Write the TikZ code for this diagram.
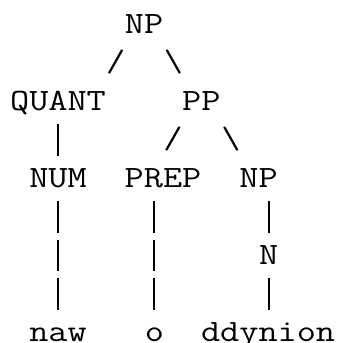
\documentclass[tikz,border=0pt]{standalone}
\tikzset{
  tok/.style={anchor=base, inner sep=0pt, outer sep=0pt,
    font=\ttfamily\fontsize{31}{31}\selectfont, xscale=1.2},
  bar/.style={anchor=base, inner sep=0pt, outer sep=0pt}
}
\newcommand{\vbar}{\rule[-7pt]{1.5pt}{31.5pt}}
\begin{document}
\begin{tikzpicture}[x=1pt,y=-1pt]
\useasboundingbox (0,0) rectangle (338,343);
% line 0
\node[tok] (np1) at (144,33) {NP};
% line 1
\node[tok] (s1) at (115.6,71.5) {/};
\node[tok] (b1) at (173.4,71.5) {\char`\\};
% line 2
\node[tok] (quant) at (58,110) {QUANT};
\node[tok] (pp) at (201.25,110) {PP};
% line 3
\node[bar] (v1) at (58,148.5) {\vbar};
\node[tok] (s2) at (173,148.5) {/};
\node[tok] (b2) at (230.9,148.5) {\char`\\};
% line 4
\node[tok] (num) at (58,187) {NUM};
\node[tok] (prep) at (163.05,187) {PREP};
\node[tok] (np2) at (258.6,187) {NP};
% line 5
\node[bar] (v2) at (58,225.5) {\vbar};
\node[bar] (v3) at (154,225.5) {\vbar};
\node[bar] (v4) at (269,225.5) {\vbar};
% line 6
\node[bar] (v5) at (58,264) {\vbar};
\node[bar] (v6) at (154,264) {\vbar};
\node[tok] (n) at (268.6,264) {N};
% line 7
\node[bar] (v7) at (58,302.5) {\vbar};
\node[bar] (v8) at (154,302.5) {\vbar};
\node[bar] (v9) at (269,302.5) {\vbar};
% line 8
\node[tok] (naw) at (58,341) {naw};
\node[tok] (o) at (154.5,341) {o};
\node[tok] (ddynion) at (268.1,341) {ddynion};
\end{tikzpicture}
\end{document}
